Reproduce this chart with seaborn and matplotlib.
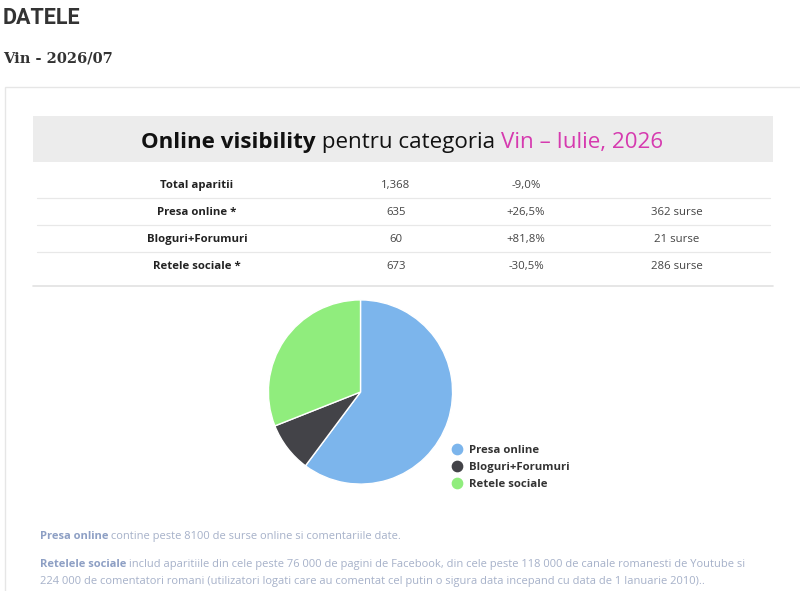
import numpy as np
import matplotlib
matplotlib.use("Agg")
import matplotlib.pyplot as plt
import seaborn as sns
from matplotlib.patches import Rectangle

# data
row_labels = ["Total aparitii", "Presa online *", "Bloguri+Forumuri", "Retele sociale *"]
row_counts = ["1,368", "635", "60", "673"]
row_change = ["-9,0%", "+26,5%", "+81,8%", "-30,5%"]
row_sources = ["", "362 surse", "21 surse", "286 surse"]

pie_labels = ["Presa online", "Bloguri+Forumuri", "Retele sociale"]
pie_shares = [60.2, 8.8, 31.0]
pie_colors = ["#7cb5ec", "#434348", "#90ed7d"]

W, H = 800, 591

sns.set_theme(style="white")
plt.rcParams["font.family"] = ["Open Sans", "DejaVu Sans"]

fig = plt.figure(figsize=(W / 100, H / 100), dpi=100)
bg = fig.add_axes([0, 0, 1, 1])
bg.set_xlim(0, W)
bg.set_ylim(H, 0)
bg.axis("off")
renderer = fig.canvas.get_renderer()
inv = bg.transData.inverted()
VA = "center_baseline"

# page header
bg.text(3, 16, "DATELE", fontsize=15.5, fontweight="bold", color="#333333",
        family=["Roboto"], va=VA, ha="left")
bg.text(3, 57, "Vin - 2026/07", fontsize=10.5, fontweight="bold", color="#333333",
        family=["DejaVu Serif"], va=VA, ha="left")

# card
bg.add_patch(Rectangle((5, 87), 800, 520, facecolor="white", edgecolor="#e6e6e6", lw=1))
bg.add_patch(Rectangle((33, 116), 740, 46, facecolor="#ececec", edgecolor="none"))


def rich_line(x, y, pieces, size, centre=None):
    # lay out text pieces one after the other, optionally centred on x=centre
    texts = []
    for s, w, c in pieces:
        t = bg.text(0, y, s, fontsize=size, fontweight=w, color=c, ha="left", va=VA)
        texts.append(t)
    widths = []
    for t in texts:
        bb = t.get_window_extent(renderer)
        widths.append(inv.transform((bb.x1, 0))[0] - inv.transform((bb.x0, 0))[0])
    if centre is not None:
        x = centre - sum(widths) / 2
    for t, w in zip(texts, widths):
        t.set_x(x)
        x += w


# title
rich_line(0, 140, [("Online visibility", "bold", "#111111"),
                   (" pentru categoria ", "normal", "#111111"),
                   ("Vin \u2013 Iulie, 2026", "normal", "#d63aaf")], 16.1, centre=402)

# table
row_y = [184, 211, 238, 265]
for i, y in enumerate(row_y):
    bg.text(197, y, row_labels[i], fontsize=8.2, fontweight="bold", color="#222222",
            ha="center", va=VA)
    bg.text(396, y, row_counts[i], fontsize=8.2, color="#444444", ha="center", va=VA)
    bg.text(526, y, row_change[i], fontsize=8.2, color="#444444", ha="center", va=VA)
    bg.text(677, y, row_sources[i], fontsize=8.2, color="#444444", ha="center", va=VA)
for y in [198, 225, 252]:
    bg.plot([37, 770], [y, y], color="#e8e8e8", lw=0.9)
bg.plot([33, 773], [286, 286], color="#e2e2e2", lw=1.2)

# pie
cx, cy, r = 360.5, 392, 93
pax = fig.add_axes([(cx - r) / W, 1 - (cy + r) / H, 2 * r / W, 2 * r / H])
pax.pie(pie_shares, colors=pie_colors, startangle=90, counterclock=False,
        wedgeprops=dict(edgecolor="white", linewidth=1))
pax.set_xlim(-1.01, 1.01)
pax.set_ylim(-1.01, 1.01)
pax.set_aspect("equal")
pax.axis("off")

# legend
for i, (lab, col) in enumerate(zip(pie_labels, pie_colors)):
    y = 449 + i * 17
    bg.scatter([457], [y], s=55, color=col, zorder=3)
    bg.text(469, y, lab, fontsize=8.2, fontweight="bold", color="#333333",
            ha="left", va=VA)

# footnotes
bold_c = "#8d9fc4"
reg_c = "#a6b1c9"
rich_line(40, 535, [("Presa online", "bold", bold_c),
                    (" contine peste 8100 de surse online si comentariile date.", "normal", reg_c)], 8.0)
rich_line(40, 563, [("Retelele sociale", "bold", bold_c),
                    (" includ aparitiile din cele peste 76 000 de pagini de Facebook, din cele peste "
                     "118 000 de canale romanesti de Youtube si", "normal", reg_c)], 8.0)
rich_line(40, 580, [("224 000 de comentatori romani (utilizatori logati care au comentat cel putin o "
                     "sigura data incepand cu data de 1 Ianuarie 2010)..", "normal", reg_c)], 8.0)

fig.savefig("out.png", dpi=100)
